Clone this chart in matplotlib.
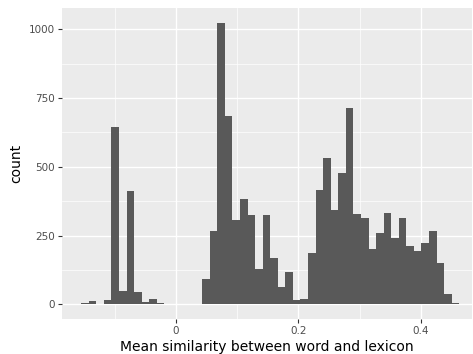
# Histogram of mean word-lexicon similarity, ggplot grey theme look

import numpy as np
import matplotlib.pyplot as plt
from matplotlib.ticker import MultipleLocator

# Data (50 bins)
bin_start = -0.1546
bin_width = 0.01234
counts = [4, 13, 2, 17, 646, 47, 411, 44, 8, 19,
          3, 0, 0, 0, 0, 0, 93, 268, 1025, 686,
          307, 383, 325, 127, 325, 167, 64, 116, 17, 19,
          185, 415, 533, 344, 479, 713, 327, 313, 201, 258,
          331, 242, 313, 212, 192, 222, 268, 149, 38, 4]
x_ticks = [0, 0.2, 0.4]
x_tick_labels = ['0', '0.2', '0.4']
y_ticks = [0, 250, 500, 750, 1000]

edges = bin_start + bin_width * np.arange(len(counts) + 1)

fig = plt.figure(figsize=(4.73, 3.54), dpi=100)
ax = fig.add_axes([0.131, 0.099, 0.867, 0.878])
ax.set_facecolor('#EBEBEB')

ax.bar(edges[:-1], counts, width=bin_width, align='edge',
       color='#595959', edgecolor='none', zorder=3)

ax.set_xlim(-0.1861, 0.4833)
ax.set_ylim(-53.5, 1077.5)
ax.set_xticks(x_ticks)
ax.set_xticklabels(x_tick_labels)
ax.set_yticks(y_ticks)
ax.xaxis.set_minor_locator(MultipleLocator(0.1))
ax.yaxis.set_minor_locator(MultipleLocator(125))

# grid
ax.grid(which='major', color='white', linewidth=1.0, zorder=0)
ax.grid(which='minor', color='white', linewidth=0.5, zorder=0)
ax.set_axisbelow(True)

for s in ax.spines.values():
    s.set_visible(False)
ax.tick_params(which='major', length=3, width=0.8, color='#333333',
               labelcolor='#4D4D4D', labelsize=7.5, pad=2)
ax.tick_params(which='minor', length=0)

ax.set_xlabel('Mean similarity between word and lexicon', fontsize=10, labelpad=3)
ax.set_ylabel('count', fontsize=10, labelpad=4)

fig.savefig('out.png', dpi=100)
